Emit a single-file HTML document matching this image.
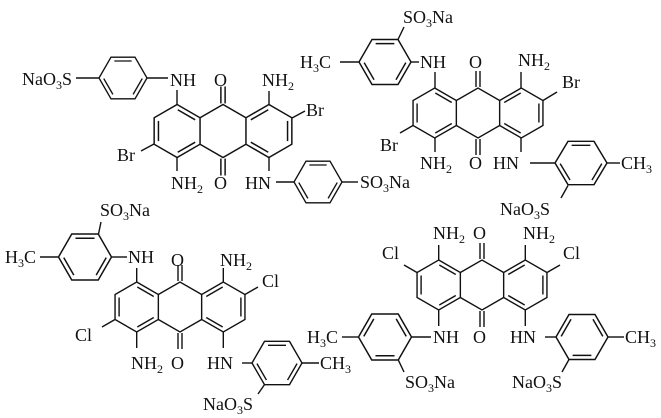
<!DOCTYPE html>
<html><head><meta charset="utf-8"><style>
html,body{margin:0;padding:0;background:#fff;}
svg{display:block;}
text{font-family:"Liberation Serif",serif;font-size:18px;fill:#111;}
.s{font-size:12px;}
</style></head><body>
<svg width="661" height="418" viewBox="0 0 661 418" xmlns="http://www.w3.org/2000/svg">
<defs>
<g id="core" fill="none" stroke="#111" stroke-width="1.4">
<polygon points="-43.3,-25 -21.65,-12.5 -21.65,12.5 -43.3,25 -64.95,12.5 -64.95,-12.5"/>
<polygon points="43.3,-25 21.65,-12.5 21.65,12.5 43.3,25 64.95,12.5 64.95,-12.5"/>
<polyline points="-21.65,-12.5 0,-25 21.65,-12.5"/>
<polyline points="-21.65,12.5 0,25 21.65,12.5"/>
<line x1="-60.9" y1="-9.5" x2="-60.9" y2="9.5"/>
<line x1="-42.7" y1="-20.04" x2="-26.25" y2="-10.54"/>
<line x1="-42.7" y1="20.04" x2="-26.25" y2="10.54"/>
<line x1="60.9" y1="-9.5" x2="60.9" y2="9.5"/>
<line x1="42.7" y1="-20.04" x2="26.25" y2="-10.54"/>
<line x1="42.7" y1="20.04" x2="26.25" y2="10.54"/>
<line x1="-2" y1="-26" x2="-2" y2="-42"/><line x1="2" y1="-26" x2="2" y2="-42"/>
<line x1="-2" y1="26" x2="-2" y2="42"/><line x1="2" y1="26" x2="2" y2="42"/>
</g>
<g id="bz" fill="none" stroke="#111" stroke-width="1.4">
<polygon points="25,0 12.5,21.65 -12.5,21.65 -25,0 -12.5,-21.65 12.5,-21.65"/>
<line x1="-9" y1="-17.7" x2="9" y2="-17.7"/>
<line x1="20.04" y1="0.6" x2="10.54" y2="17.05"/>
<line x1="-20.04" y1="0.6" x2="-10.54" y2="17.05"/>
</g>
</defs>

<!-- Molecule 1 -->
<use href="#core" transform="translate(223,131) scale(1.06)"/>
<use href="#bz" transform="translate(123,78) scale(0.96)"/>
<use href="#bz" transform="translate(318,182) scale(0.96)"/>
<g stroke="#111" stroke-width="1.4">
<line x1="177" y1="104.5" x2="177" y2="90"/>
<line x1="177" y1="157.5" x2="177" y2="171"/>
<line x1="154" y1="144" x2="141" y2="151"/>
<line x1="292" y1="118" x2="305" y2="111"/>
<line x1="269" y1="104.5" x2="269" y2="91"/>
<line x1="269" y1="157.5" x2="269" y2="171"/>
<line x1="76" y1="78" x2="99" y2="78"/>
<line x1="147" y1="78" x2="168" y2="78"/>
<line x1="276" y1="182" x2="294" y2="182"/>
<line x1="342" y1="182" x2="358" y2="182"/>
</g>
<text x="22" y="85">NaO<tspan class="s" dy="4">3</tspan><tspan dy="-4">S</tspan></text>
<text x="170" y="86">NH</text>
<text x="214" y="86">O</text>
<text x="262" y="86">NH<tspan class="s" dy="4">2</tspan></text>
<text x="306" y="116">Br</text>
<text x="117" y="161">Br</text>
<text x="171" y="189">NH<tspan class="s" dy="4">2</tspan></text>
<text x="214" y="189">O</text>
<text x="245" y="189">HN</text>
<text x="360" y="188">SO<tspan class="s" dy="4">3</tspan><tspan dy="-4">Na</tspan></text>

<!-- Molecule 2 -->
<use href="#core" transform="translate(478,113)"/>
<use href="#bz" transform="translate(385,62) scale(1.04)"/>
<use href="#bz" transform="translate(581,163) scale(-1.04,1)"/>
<g stroke="#111" stroke-width="1.4">
<line x1="435" y1="88" x2="435" y2="72"/>
<line x1="521" y1="88" x2="521" y2="72"/>
<line x1="543" y1="100.5" x2="557" y2="92"/>
<line x1="413" y1="125.5" x2="400" y2="133"/>
<line x1="435" y1="138" x2="435" y2="152"/>
<line x1="521" y1="138" x2="521" y2="152"/>
<line x1="340" y1="62" x2="359" y2="62"/>
<line x1="411" y1="62" x2="419" y2="62"/>
<line x1="398" y1="39.5" x2="404" y2="27"/>
<line x1="530" y1="163" x2="555" y2="163"/>
<line x1="607" y1="163" x2="620" y2="163"/>
<line x1="568" y1="185.5" x2="561" y2="198"/>
</g>
<text x="300" y="68">H<tspan class="s" dy="4">3</tspan><tspan dy="-4">C</tspan></text>
<text x="403" y="23">SO<tspan class="s" dy="4">3</tspan><tspan dy="-4">Na</tspan></text>
<text x="420" y="68">NH</text>
<text x="469" y="68">O</text>
<text x="518" y="66">NH<tspan class="s" dy="4">2</tspan></text>
<text x="562" y="88">Br</text>
<text x="380" y="151">Br</text>
<text x="420" y="169">NH<tspan class="s" dy="4">2</tspan></text>
<text x="469" y="169">O</text>
<text x="493" y="169">HN</text>
<text x="621" y="169">CH<tspan class="s" dy="4">3</tspan></text>
<text x="500" y="215">NaO<tspan class="s" dy="4">3</tspan><tspan dy="-4">S</tspan></text>

<!-- Molecule 3 -->
<use href="#core" transform="translate(180,307)"/>
<use href="#bz" transform="translate(85,257) scale(1.06)"/>
<use href="#bz" transform="translate(277,363) scale(-1,1)"/>
<g stroke="#111" stroke-width="1.4">
<line x1="136.7" y1="282" x2="136.7" y2="268"/>
<line x1="223.3" y1="282" x2="223.3" y2="268"/>
<line x1="245" y1="294.5" x2="258" y2="287"/>
<line x1="115" y1="319.5" x2="102" y2="327"/>
<line x1="136.7" y1="332" x2="136.7" y2="348"/>
<line x1="223.3" y1="332" x2="223.3" y2="348"/>
<line x1="40" y1="257" x2="58" y2="257"/>
<line x1="112" y1="257" x2="127" y2="257"/>
<line x1="98.5" y1="234" x2="101" y2="222"/>
<line x1="242" y1="363" x2="252" y2="363"/>
<line x1="302" y1="363" x2="319" y2="363"/>
<line x1="264.5" y1="384.6" x2="258" y2="394"/>
</g>
<text x="5" y="263">H<tspan class="s" dy="4">3</tspan><tspan dy="-4">C</tspan></text>
<text x="100" y="216">SO<tspan class="s" dy="4">3</tspan><tspan dy="-4">Na</tspan></text>
<text x="128" y="263">NH</text>
<text x="171" y="266">O</text>
<text x="220" y="266">NH<tspan class="s" dy="4">2</tspan></text>
<text x="262" y="287">Cl</text>
<text x="75" y="341">Cl</text>
<text x="131" y="369">NH<tspan class="s" dy="4">2</tspan></text>
<text x="171" y="369">O</text>
<text x="207" y="369">HN</text>
<text x="320" y="369">CH<tspan class="s" dy="4">3</tspan></text>
<text x="203" y="410">NaO<tspan class="s" dy="4">3</tspan><tspan dy="-4">S</tspan></text>

<!-- Molecule 4 -->
<use href="#core" transform="translate(482,285)"/>
<use href="#bz" transform="translate(385,337) scale(1.06,-1.06)"/>
<use href="#bz" transform="translate(582,337) scale(-1.04,-1.04)"/>
<g stroke="#111" stroke-width="1.4">
<line x1="438.7" y1="260" x2="438.7" y2="245"/>
<line x1="525.3" y1="260" x2="525.3" y2="245"/>
<line x1="417" y1="272.5" x2="404" y2="265"/>
<line x1="547" y1="272.5" x2="560" y2="265"/>
<line x1="438.7" y1="310" x2="438.7" y2="326"/>
<line x1="525.3" y1="310" x2="525.3" y2="326"/>
<line x1="342" y1="337" x2="358" y2="337"/>
<line x1="412" y1="337" x2="431" y2="337"/>
<line x1="398.5" y1="360.4" x2="404" y2="372"/>
<line x1="545" y1="337" x2="556" y2="337"/>
<line x1="608" y1="337" x2="624" y2="337"/>
<line x1="569" y1="359.5" x2="562" y2="372"/>
</g>
<text x="433" y="239">NH<tspan class="s" dy="4">2</tspan></text>
<text x="473" y="239">O</text>
<text x="523" y="239">NH<tspan class="s" dy="4">2</tspan></text>
<text x="382" y="259">Cl</text>
<text x="563" y="259">Cl</text>
<text x="433" y="343">NH</text>
<text x="473" y="343">O</text>
<text x="510" y="343">HN</text>
<text x="307" y="343">H<tspan class="s" dy="4">3</tspan><tspan dy="-4">C</tspan></text>
<text x="625" y="343">CH<tspan class="s" dy="4">3</tspan></text>
<text x="405" y="388">SO<tspan class="s" dy="4">3</tspan><tspan dy="-4">Na</tspan></text>
<text x="512" y="388">NaO<tspan class="s" dy="4">3</tspan><tspan dy="-4">S</tspan></text>
</svg>
</body></html>
